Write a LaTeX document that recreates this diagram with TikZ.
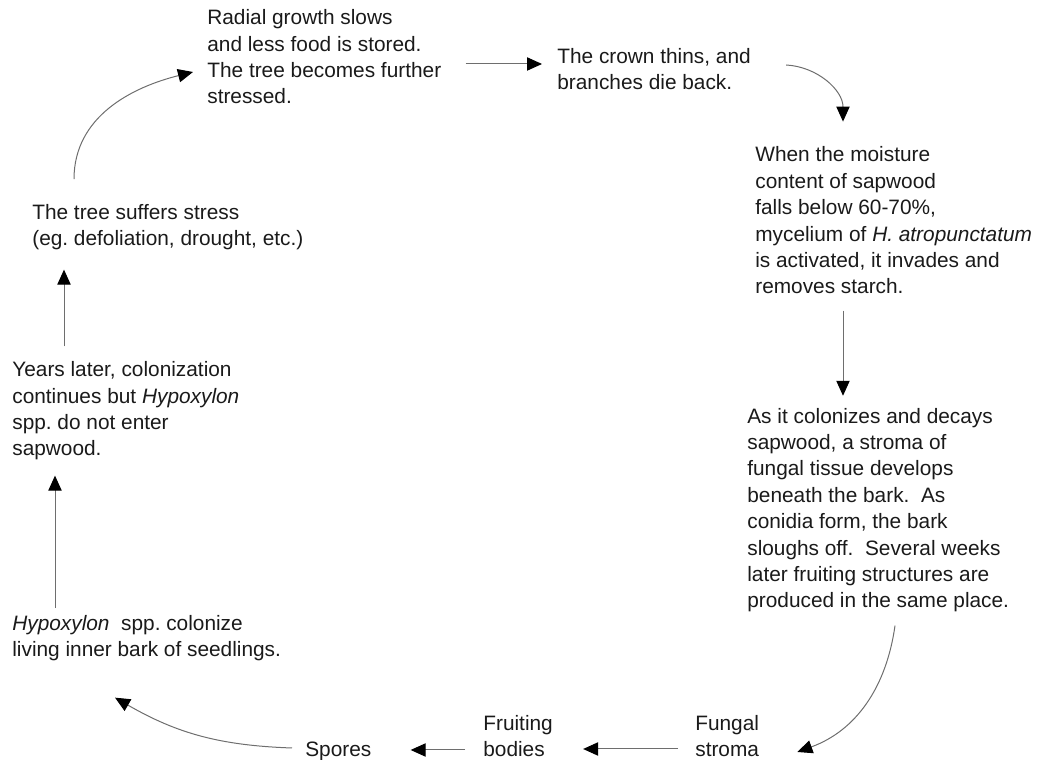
\documentclass[tikz,border=0pt]{standalone}
\usepackage{fontspec}
\setmainfont{Liberation Sans}
\usepackage{tikz}
\usetikzlibrary{calc,arrows.meta}
\definecolor{ink}{HTML}{1A1A1A}
\definecolor{wire}{HTML}{6E6E6E}
\tikzset{
  txt/.style={text=ink, align=left, anchor=base west, inner sep=0pt,
    font=\fontsize{12.5}{15.84}\selectfont\frenchspacing},
  link/.style={draw=wire, line width=0.6pt,
    -{Triangle[length=9pt, width=8pt, color=black]}}
}

\begin{document}
\begin{tikzpicture}[x=0.6pt, y=0.6pt]
    \useasboundingbox (0,0) rectangle (1039,760);

    % --- TOP ROW ---
    \node[txt] (radial) at (207,656) {Radial growth slows\\and less food is stored.\\The tree becomes further\\stressed.};
    \node[txt] (crown) at (557,670) {The crown thins, and\\branches die back.};

    % --- RIGHT COLUMN ---
    \node[txt] (moist) at (755,466) {When the moisture\\content of sapwood\\falls below 60-70\%,\\mycelium of \textit{H. atropunctatum}\\is activated, it invades and\\removes starch.};
    \node[txt] (colon) at (747,152) {As it colonizes and decays\\sapwood, a stroma of\\fungal tissue develops\\beneath the bark.\ \ As\\conidia form, the bark\\sloughs off.\ \ Several weeks\\later fruiting structures are\\produced in the same place.};

    % --- BOTTOM ROW ---
    \node[txt] (stroma) at (695,3) {Fungal\\stroma};
    \node[txt] (bodies) at (483,3) {Fruiting\\bodies};
    \node[txt] (spores) at (305,3) {Spores};

    % --- LEFT COLUMN ---
    \node[txt] (hypo) at (12,103) {\textit{Hypoxylon}\ \ spp. colonize\\living inner bark of seedlings.};
    \node[txt] (years) at (12,304) {Years later, colonization\\continues but \textit{Hypoxylon}\\spp. do not enter\\sapwood.};
    \node[txt] (stress) at (32,514) {The tree suffers stress\\(eg. defoliation, drought, etc.)};

    % --- ARROWS ---
    \draw[link] ($(stress.north west)+(42,25)$) to[out=90, in=194] ($(radial.base west)+(-14,32)$);
    \draw[link] ($(radial.east |- crown.base)+(24,26)$) -- ($(crown.base west)+(-15,26)$);
    \draw[link] ($(crown.base east)+(35,25)$) to[out=-3, in=90] ($(moist.north west)+(88,25)$);
    \draw[link] ($(moist.south west)+(88,-16)$) -- ($(colon.north west)+(96,12)$);
    \draw[link] ($(colon.south west)+(148,-13)$) to[out=262, in=20] ($(stroma.base east)+(38,5)$);
    \draw[link] ($(stroma.base west)+(-17,8)$) -- ($(bodies.base east)+(30,8)$);
    \draw[link] ($(bodies.base west)+(-18,7)$) -- ($(spores.base east)+(39,7)$);
    \draw[link] ($(spores.base west)+(-13,9)$) to[out=178, in=-30] ($(hypo.south west)+(103,-36)$);
    \draw[link] ($(hypo.north west)+(43,7)$) -- ($(years.south west)+(43,-15)$);
    \draw[link] ($(years.north west)+(52,15)$) -- ($(stress.south west)+(32,-19)$);
\end{tikzpicture}
\end{document}
